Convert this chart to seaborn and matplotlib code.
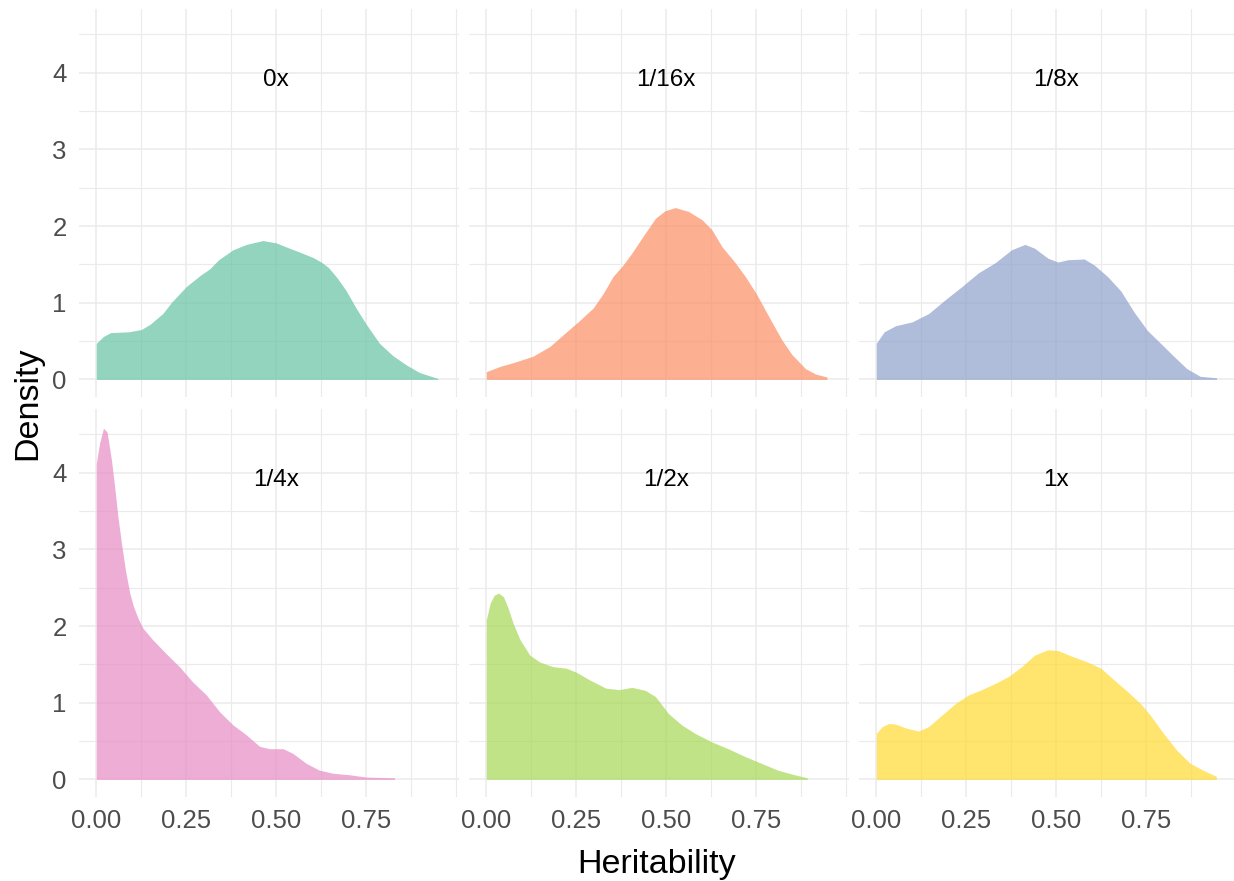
import matplotlib
matplotlib.use("Agg")
import matplotlib.pyplot as plt
from matplotlib.ticker import MultipleLocator
import pandas as pd
import seaborn as sns

# ---------------------------------------------------------
# Density curves, one per coverage
# ---------------------------------------------------------
coverage_labels = ["0x", "1/16x", "1/8x", "1/4x", "1/2x", "1x"]

h_0x = [0, 0.02, 0.04, 0.09, 0.125, 0.15, 0.185, 0.21, 0.25, 0.29, 0.315, 0.34, 0.38, 0.417,
        0.463, 0.5, 0.537, 0.565, 0.602, 0.625, 0.645, 0.67, 0.694, 0.722, 0.75, 0.787, 0.824,
        0.861, 0.898, 0.95]
d_0x = [0.47, 0.56, 0.61, 0.62, 0.65, 0.72, 0.86, 1.01, 1.21, 1.36, 1.44, 1.56, 1.69, 1.76,
        1.81, 1.78, 1.71, 1.66, 1.59, 1.53, 1.46, 1.32, 1.16, 0.93, 0.72, 0.47, 0.31,
        0.19, 0.09, 0.01]

h_16x = [0, 0.039, 0.076, 0.129, 0.177, 0.223, 0.26, 0.297, 0.325, 0.352, 0.38, 0.405, 0.432,
         0.47, 0.497, 0.525, 0.562, 0.6, 0.627, 0.655, 0.692, 0.72, 0.75, 0.785, 0.822,
         0.85, 0.887, 0.915, 0.947]
d_16x = [0.10, 0.17, 0.22, 0.30, 0.43, 0.62, 0.77, 0.93, 1.12, 1.34, 1.49, 1.65, 1.84,
         2.10, 2.20, 2.24, 2.19, 2.08, 1.95, 1.73, 1.52, 1.34, 1.12, 0.82, 0.51,
         0.32, 0.14, 0.07, 0.03]

h_8x = [0, 0.022, 0.054, 0.10, 0.146, 0.192, 0.238, 0.284, 0.33, 0.376, 0.413, 0.44, 0.477,
        0.505, 0.532, 0.578, 0.606, 0.643, 0.68, 0.716, 0.753, 0.79, 0.827, 0.863, 0.90, 0.946]
d_8x = [0.47, 0.62, 0.70, 0.75, 0.86, 1.04, 1.21, 1.39, 1.52, 1.69, 1.76, 1.71, 1.58,
        1.53, 1.56, 1.57, 1.49, 1.34, 1.15, 0.88, 0.64, 0.47, 0.30, 0.14, 0.04, 0.02]

h_4x = [0, 0.009, 0.02, 0.03, 0.042, 0.051, 0.06, 0.07, 0.081, 0.093, 0.103, 0.117, 0.13,
        0.157, 0.194, 0.231, 0.268, 0.306, 0.343, 0.38, 0.417, 0.454, 0.481, 0.519, 0.546,
        0.583, 0.62, 0.657, 0.704, 0.75, 0.829]
d_4x = [4.12, 4.38, 4.58, 4.53, 4.17, 3.82, 3.43, 3.08, 2.73, 2.43, 2.26, 2.09, 1.97,
        1.82, 1.64, 1.47, 1.27, 1.10, 0.88, 0.71, 0.58, 0.43, 0.40, 0.40, 0.34,
        0.21, 0.12, 0.08, 0.06, 0.03, 0.02]

h_2x = [0, 0.011, 0.022, 0.034, 0.048, 0.061, 0.075, 0.094, 0.121, 0.149, 0.185, 0.222,
        0.249, 0.286, 0.332, 0.369, 0.405, 0.442, 0.47, 0.506, 0.543, 0.58, 0.626, 0.672,
        0.718, 0.764, 0.81, 0.857, 0.892]
d_2x = [2.08, 2.30, 2.40, 2.43, 2.38, 2.23, 2.03, 1.82, 1.62, 1.53, 1.47, 1.45,
        1.40, 1.30, 1.19, 1.17, 1.20, 1.16, 1.08, 0.86, 0.71, 0.60, 0.49, 0.40,
        0.30, 0.21, 0.12, 0.06, 0.02]

h_1x = [0, 0.017, 0.036, 0.054, 0.082, 0.118, 0.146, 0.183, 0.22, 0.256, 0.293, 0.33, 0.367,
        0.404, 0.44, 0.477, 0.505, 0.541, 0.587, 0.624, 0.66, 0.697, 0.734, 0.761, 0.798,
        0.835, 0.872, 0.908, 0.945]
d_1x = [0.60, 0.69, 0.73, 0.72, 0.67, 0.63, 0.69, 0.84, 0.99, 1.10, 1.17, 1.25, 1.34,
        1.47, 1.62, 1.69, 1.68, 1.61, 1.53, 1.45, 1.30, 1.15, 0.99, 0.84, 0.60,
        0.38, 0.21, 0.12, 0.04]

heritability = [h_0x, h_16x, h_8x, h_4x, h_2x, h_1x]
density = [d_0x, d_16x, d_8x, d_4x, d_2x, d_1x]

df = pd.concat(
    [pd.DataFrame({"Coverage": lab, "Heritability": h, "Density": d})
     for lab, h, d in zip(coverage_labels, heritability, density)],
    ignore_index=True,
)

# ---------------------------------------------------------
# Style (ggplot theme_minimal look)
# ---------------------------------------------------------
sns.set_style("white")
plt.rcParams["font.family"] = ["Liberation Sans", "DejaVu Sans"]

GRID = "#EBEBEB"
TICK_COL = "#4D4D4D"


def draw_area(data, color=None, label=None, **kwargs):
    ax = plt.gca()
    ax.fill_between(data["Heritability"], 0, data["Density"],
                    color=color, alpha=0.7, linewidth=0)


g = sns.FacetGrid(df, col="Coverage", hue="Coverage", col_wrap=3,
                  col_order=coverage_labels, hue_order=coverage_labels,
                  palette="Set2", sharex=True, sharey=True, despine=False)
g.map_dataframe(draw_area)
g.set_titles("")
g.set_axis_labels("", "")

fig = g.figure
fig.set_size_inches(12.34, 8.81)

px_w, px_h = 1234, 881
lefts = [79, 469, 859]
tops = [9, 409]
panel_w, panel_h = 380, 388

for i, (ax, lab) in enumerate(zip(g.axes.flat, coverage_labels)):
    row, col = divmod(i, 3)
    ax.set_position([lefts[col] / px_w, 1 - (tops[row] + panel_h) / px_h,
                     panel_w / px_w, panel_h / px_h])
    ax.set_xlim(-0.048, 1.008)
    ax.set_ylim(-0.23, 4.83)
    ax.set_xticks([0, 0.25, 0.5, 0.75])
    ax.set_xticklabels(["0.00", "0.25", "0.50", "0.75"])
    ax.set_yticks([0, 1, 2, 3, 4])
    ax.xaxis.set_minor_locator(MultipleLocator(0.125))
    ax.yaxis.set_minor_locator(MultipleLocator(0.5))
    ax.set_axisbelow(True)
    ax.grid(which="major", color=GRID, linewidth=1.1)
    ax.grid(which="minor", color=GRID, linewidth=0.8)
    for sp in ax.spines.values():
        sp.set_visible(False)
    ax.tick_params(which="both", length=0, labelsize=18.5, labelcolor=TICK_COL,
                   labelbottom=(row == 1), labelleft=(col == 0))
    ax.tick_params(axis="x", pad=9)
    ax.tick_params(axis="y", pad=9)
    ax.set_xlabel("")
    ax.set_ylabel("")
    ax.text(0.5, 3.83, lab, ha="center", va="baseline", fontsize=17.5, color="black")

fig.text(0.5322, 0.0091, "Heritability", ha="center", va="baseline",
         fontsize=24.5, color="black")
fig.text(0.0227, 0.5426, "Density", ha="center", va="center", rotation=90,
         fontsize=24.5, color="black")

fig.savefig("out.png", dpi=100)
plt.close(fig)
